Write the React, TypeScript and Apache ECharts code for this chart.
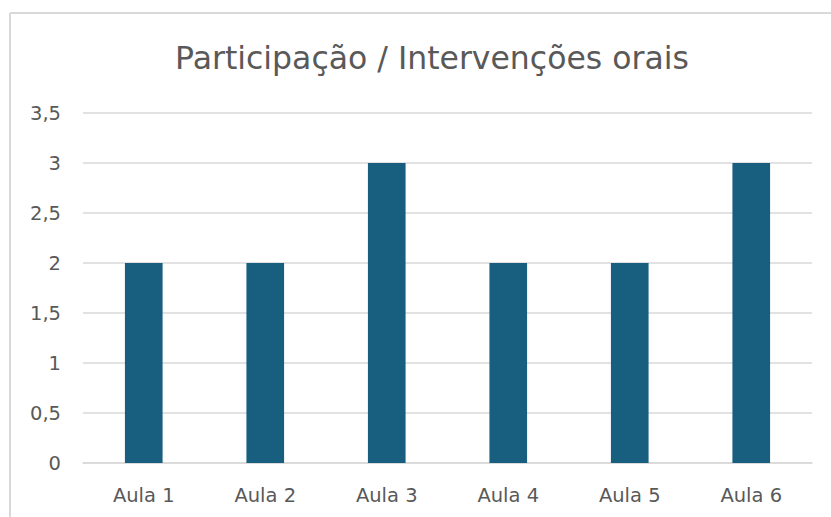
import React, { useEffect, useRef } from "react";
import * as echarts from "echarts";

const categories = ["Aula 1", "Aula 2", "Aula 3", "Aula 4", "Aula 5", "Aula 6"];
const values = [2, 2, 3, 2, 2, 3];
const titleText = "Participação / Intervenções orais";

const FONT = "DejaVu Sans";

export default function App() {
  const ref = useRef<HTMLDivElement>(null);
  useEffect(() => {
    if (!ref.current) return;
    const chart = echarts.init(ref.current, undefined, { renderer: "svg" });
    chart.setOption({
      animation: false,
      backgroundColor: "#ffffff",
      title: {
        text: titleText,
        left: 427,
        textAlign: "center",
        top: 37,
        textStyle: { fontFamily: FONT, fontSize: 31.5, fontWeight: "normal", color: "#595959" },
      },
      grid: { left: 83, right: 19, top: 113, bottom: 54 },
      xAxis: {
        type: "category",
        data: categories,
        axisLine: { show: true, lineStyle: { color: "#d9d9d9", width: 1.5 } },
        axisTick: { show: false },
        axisLabel: { color: "#595959", fontSize: 19.5, fontFamily: FONT, margin: 22 },
      },
      yAxis: {
        type: "value",
        min: 0,
        max: 3.5,
        interval: 0.5,
        axisLine: { show: false },
        axisTick: { show: false },
        splitLine: { lineStyle: { color: "#d9d9d9", width: 1.5 } },
        axisLabel: {
          color: "#595959",
          fontSize: 19.5,
          fontFamily: FONT,
          margin: 22,
          formatter: (v: number) => String(v).replace(".", ","),
        },
      },
      series: [
        {
          type: "bar",
          data: values,
          barWidth: "31%",
          itemStyle: { color: "#175e7f" },
        },
      ],
      graphic: [
        { type: "line", shape: { x1: 10, y1: 13, x2: 831, y2: 13 }, style: { stroke: "#d9d9d9", lineWidth: 2 } },
        { type: "line", shape: { x1: 10, y1: 13, x2: 10, y2: 517 }, style: { stroke: "#d9d9d9", lineWidth: 2 } },
      ],
    });
    return () => chart.dispose();
  }, []);
  return (
    <div
      ref={ref}
      style={{ position: "fixed", left: 0, top: 0, width: 831, height: 517 }}
    />
  );
}
